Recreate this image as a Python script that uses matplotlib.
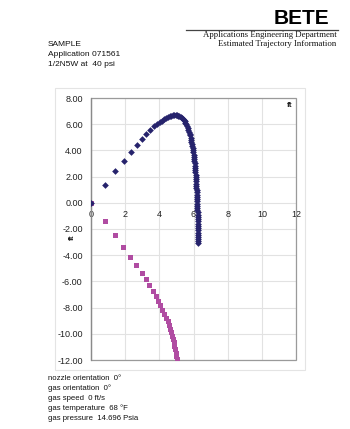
import matplotlib
matplotlib.use("Agg")
import matplotlib.pyplot as plt
from matplotlib.patches import Rectangle
from matplotlib.lines import Line2D
from matplotlib.ticker import FormatStrFormatter

plt.rcParams['font.family'] = ['Liberation Sans', 'DejaVu Sans']

# Trajectory series (ft)
upper_x = [0.00, 0.80, 1.40, 1.91, 2.32, 2.69, 2.98, 3.23, 3.47, 3.68,
           3.86, 4.02, 4.16, 4.29, 4.41, 4.52, 4.62, 4.71, 4.80, 4.88,
           4.96, 5.04, 5.11, 5.18, 5.25, 5.31, 5.37, 5.43, 5.48, 5.53,
           5.58, 5.62, 5.66, 5.70, 5.74, 5.77, 5.80, 5.83, 5.86, 5.88,
           5.91, 5.93, 5.95, 5.97, 5.99, 6.01, 6.02, 6.04, 6.05, 6.07,
           6.08, 6.09, 6.10, 6.11, 6.12, 6.13, 6.14, 6.15, 6.16, 6.17,
           6.17, 6.18, 6.19, 6.19, 6.20, 6.21, 6.21, 6.22, 6.22, 6.23,
           6.23, 6.24, 6.24, 6.25, 6.25, 6.25, 6.26, 6.26, 6.26, 6.27,
           6.27, 6.27, 6.27, 6.28, 6.28, 6.28]
upper_y = [0.00, 1.35, 2.40, 3.21, 3.89, 4.43, 4.89, 5.24, 5.57, 5.83,
           6.00, 6.14, 6.26, 6.37, 6.46, 6.54, 6.60, 6.65, 6.68, 6.70,
           6.70, 6.69, 6.66, 6.62, 6.56, 6.49, 6.41, 6.32, 6.22, 6.11,
           5.99, 5.86, 5.73, 5.59, 5.44, 5.29, 5.14, 4.98, 4.82, 4.66,
           4.50, 4.34, 4.17, 4.01, 3.84, 3.67, 3.51, 3.34, 3.17, 3.00,
           2.83, 2.66, 2.49, 2.32, 2.15, 1.98, 1.81, 1.64, 1.47, 1.30,
           1.13, 0.96, 0.79, 0.62, 0.45, 0.28, 0.11, -0.06, -0.23, -0.40,
           -0.57, -0.74, -0.91, -1.08, -1.25, -1.42, -1.59, -1.76, -1.93, -2.10,
           -2.27, -2.44, -2.61, -2.78, -2.95, -3.05]

lower_x = [0.00, 0.80, 1.40, 1.90, 2.31, 2.66, 2.96, 3.20, 3.42, 3.61,
           3.78, 3.93, 4.06, 4.18, 4.29, 4.39, 4.48, 4.56, 4.63, 4.69,
           4.75, 4.80, 4.84, 4.88, 4.92, 4.95, 4.98, 5.01]
lower_y = [0.00, -1.40, -2.45, -3.35, -4.12, -4.77, -5.34, -5.85, -6.30, -6.72,
           -7.11, -7.48, -7.83, -8.16, -8.47, -8.77, -9.06, -9.34, -9.61, -9.88,
           -10.14, -10.40, -10.66, -10.92, -11.18, -11.44, -11.70, -11.96]

x_ticks = [0, 2, 4, 6, 8, 10, 12]
y_ticks = [8, 6, 4, 2, 0, -2, -4, -6, -8, -10, -12]

header_left = ["SAMPLE", "Application 071561", "1/2N5W at  40 psi"]
footer_lines = ["nozzle orientation  0\u00b0", "gas orientation  0\u00b0",
                "gas speed  0 ft/s", "gas temperature  68 \u00b0F",
                "gas pressure  14.696 Psia"]

W, H = 350, 429
fig = plt.figure(figsize=(W / 100, H / 100), dpi=100)
fig.patch.set_facecolor('white')


def fx(px):
    return px / W


def fy(py):
    return 1 - py / H


# chart area frame
fig.patches.append(Rectangle((fx(55), fy(370)), 250 / W, 282 / H,
                             transform=fig.transFigure, fill=False,
                             edgecolor='#e4e4e4', linewidth=0.8))

ax = fig.add_axes([fx(91), fy(360), (296 - 91) / W, (360 - 98) / H])
ax.set_xlim(0, 12)
ax.set_ylim(-12, 8)
ax.set_xticks(x_ticks)
ax.set_yticks(y_ticks)
ax.yaxis.set_major_formatter(FormatStrFormatter('%.2f'))
ax.grid(True, color='#e2e2e2', linewidth=0.8)
ax.set_axisbelow(True)

# x labels sit along y = 0
ax.spines['bottom'].set_position(('data', 0))
ax.spines['bottom'].set_visible(False)
for s in ['top', 'right']:
    ax.spines[s].set_visible(False)
ax.spines['left'].set_color('#8a8a8a')
ax.spines['left'].set_linewidth(0.9)
ax.add_patch(Rectangle((0, 0), 1, 1, transform=ax.transAxes, fill=False,
                       edgecolor='#9a9a9a', linewidth=0.9, zorder=1.5,
                       clip_on=False))

ax.tick_params(axis='both', length=0, labelsize=6.5, colors='#222222')
ax.tick_params(axis='x', pad=5)
ax.tick_params(axis='y', pad=6)

ax.plot(lower_x, lower_y, linestyle='none', marker='s', markersize=3.6,
        color='#b04ca2', markeredgewidth=0, zorder=3)
ax.plot(upper_x, upper_y, linestyle='none', marker='D', markersize=3.4,
        color='#26236c', markeredgewidth=0, zorder=4)

ax.text(0.97, 0.985, 'ft', transform=ax.transAxes, ha='center', va='top',
        fontsize=6, fontweight='bold', color='#222222')
fig.text(fx(72), fy(237), 'ft', rotation=90, ha='center', va='center',
         fontsize=6, fontweight='bold', color='#222222')

# header
fig.text(fx(329), fy(18), 'BETE', ha='right', va='center', fontsize=15,
         fontweight='heavy', color='black')
fig.lines.append(Line2D([fx(186), fx(338)], [fy(29.5), fy(29.5)],
                        transform=fig.transFigure, color='#444444',
                        linewidth=0.9))
fig.text(fx(337), fy(35), 'Applications Engineering Department', ha='right',
         va='center', fontsize=6.3, family='Liberation Serif', color='#111111')
fig.text(fx(336), fy(44), 'Estimated Trajectory Information', ha='right',
         va='center', fontsize=6.3, family='Liberation Serif', color='#111111')

for i, t in enumerate(header_left):
    fig.text(fx(48), fy(45 + 10 * i), t, ha='left', va='center', fontsize=6.0,
             color='#111111')

for i, t in enumerate(footer_lines):
    fig.text(fx(48), fy(378 + 10 * i), t, ha='left', va='center', fontsize=5.6,
             color='#111111')

fig.savefig('out.png', dpi=100)
